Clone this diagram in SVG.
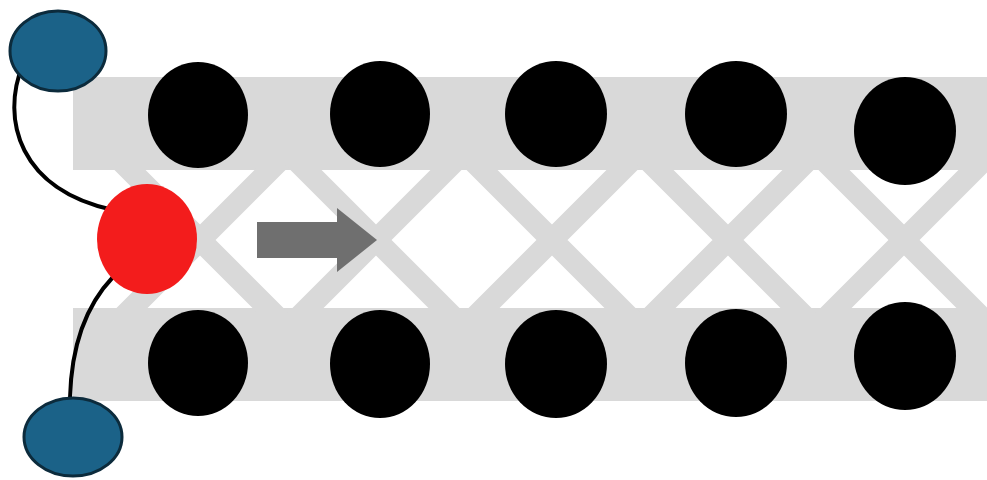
<svg xmlns="http://www.w3.org/2000/svg" width="987" height="480" viewBox="0 0 987 480">
  <style>
    .band { fill: #d9d9d9; }
    .diag { stroke: #d9d9d9; stroke-width: 22; fill: none; }
    .dot { fill: #000000; }
    .blue { fill: #1b6288; stroke: #0c2b3c; stroke-width: 3; }
    .red { fill: #f31c1c; }
    .link { stroke: #000000; stroke-width: 4; fill: none; stroke-linecap: round; }
    .arrow { fill: #6f6f6f; }
  </style>
  <defs>
    <clipPath id="mid">
      <rect x="73" y="165" width="914" height="148"/>
    </clipPath>
  </defs>
  <rect width="987" height="480" fill="#ffffff"/>
  <g id="lattice">
    <rect class="band" x="73" y="77" width="914" height="93"/>
    <rect class="band" x="73" y="308" width="914" height="93"/>
    <g clip-path="url(#mid)">
      <path class="diag" d="M120,320 L280,160 M120,160 L280,320"/>
      <path class="diag" d="M296,320 L456,160 M296,160 L456,320"/>
      <path class="diag" d="M472,320 L632,160 M472,160 L632,320"/>
      <path class="diag" d="M648,320 L808,160 M648,160 L808,320"/>
      <path class="diag" d="M824,320 L984,160 M824,160 L984,320"/>
      <path class="diag" d="M1000,320 L1160,160 M1000,160 L1160,320"/>
    </g>
  </g>
  <g id="arrow">
    <polygon class="arrow" points="257,222 337,222 337,208 377,240 337,272 337,258 257,258"/>
  </g>
  <g id="top-row">
    <ellipse id="t1" class="dot" cx="198" cy="115" rx="50" ry="53"/>
    <ellipse id="t2" class="dot" cx="380" cy="114" rx="50" ry="53"/>
    <ellipse id="t3" class="dot" cx="556" cy="114" rx="51" ry="53"/>
    <ellipse id="t4" class="dot" cx="736" cy="114" rx="51" ry="53"/>
    <ellipse id="t5" class="dot" cx="905" cy="131" rx="51" ry="54"/>
  </g>
  <g id="bottom-row">
    <ellipse id="b1" class="dot" cx="198" cy="363" rx="50" ry="53"/>
    <ellipse id="b2" class="dot" cx="380" cy="364" rx="50" ry="54"/>
    <ellipse id="b3" class="dot" cx="556" cy="364" rx="51" ry="54"/>
    <ellipse id="b4" class="dot" cx="736" cy="363" rx="51" ry="54"/>
    <ellipse id="b5" class="dot" cx="905" cy="356" rx="51" ry="54"/>
  </g>
  <g id="connectors">
    <path class="link" d="M23,64 C0,120 20,190 113,210"/>
    <path class="link" d="M113,277 Q72,320 70,398"/>
  </g>
  <g id="red-node">
    <ellipse class="red" cx="147" cy="239" rx="50" ry="55"/>
  </g>
  <g id="blue-top">
    <ellipse class="blue" cx="58" cy="51" rx="48" ry="40"/>
  </g>
  <g id="blue-bottom">
    <ellipse class="blue" cx="73" cy="437" rx="49" ry="39"/>
  </g>
</svg>
